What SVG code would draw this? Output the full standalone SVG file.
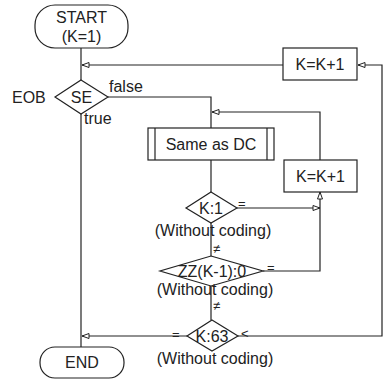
<svg xmlns="http://www.w3.org/2000/svg" width="383" height="380" viewBox="0 0 383 380">
<style>
.s{fill:#fff;stroke:#222;stroke-width:1.2}
.c{fill:none;stroke:#222;stroke-width:1.2}
text{font-family:"Liberation Sans",Arial,sans-serif;font-size:16px;fill:#222}
.m{text-anchor:middle}
.l{font-size:13px}
</style>
<defs>
<marker id="a" markerWidth="9" markerHeight="7" refX="8" refY="3.5" orient="auto" markerUnits="userSpaceOnUse">
<polygon points="1,1 8,3.5 1,6" fill="#fff" stroke="#222" stroke-width="1"/>
</marker>
</defs>
<g id="connectors">
<path class="c" d="M81,48 V80"/>
<path class="c" d="M283,65 H82" marker-end="url(#a)"/>
<path class="c" d="M81,114 V347"/>
<path class="c" d="M108,97 H211 V128"/>
<path class="c" d="M211,160 V192"/>
<path class="c" d="M237,208 H320" marker-end="url(#a)"/>
<path class="c" d="M211,222 V256"/>
<path class="c" d="M263,271 H320 V192" marker-end="url(#a)"/>
<path class="c" d="M320,160 V112 H212" marker-end="url(#a)"/>
<path class="c" d="M211,286 V320"/>
<path class="c" d="M187,336 H82" marker-end="url(#a)"/>
<path class="c" d="M238,336 H382 V65 H358" marker-end="url(#a)"/>
<text x="109" y="92">false</text>
<text x="84" y="124">true</text>
<text class="l" x="238" y="208">=</text>
<text class="l" x="213" y="253">≠</text>
<text class="l" x="267" y="272">=</text>
<text class="l" x="213" y="310">≠</text>
<text class="l" x="172" y="339">=</text>
<text class="l" x="241" y="338">&lt;</text>
</g>
<g id="start">
<rect class="s" x="35" y="5" width="93" height="43" rx="20"/>
<text class="m" x="81.5" y="23">START</text>
<text class="m" x="81.5" y="42">(K=1)</text>
</g>
<g id="se">
<polygon class="s" points="81,80 108,97 81,114 55,97"/>
<text class="m" x="81.5" y="103">SE</text>
<text x="12" y="103">EOB</text>
</g>
<g id="inc1">
<rect class="s" x="283" y="48" width="74" height="32"/>
<text class="m" x="320" y="70">K=K+1</text>
</g>
<g id="sameasdc">
<rect class="s" x="148" y="128" width="126" height="32"/>
<line class="c" x1="155" y1="128" x2="155" y2="160"/>
<line class="c" x1="267" y1="128" x2="267" y2="160"/>
<text class="m" x="211" y="150">Same as DC</text>
</g>
<g id="inc2">
<rect class="s" x="284" y="160" width="73" height="32"/>
<text class="m" x="320.5" y="182">K=K+1</text>
</g>
<g id="k1">
<polygon class="s" points="211,192 237,208 211,223 186,208"/>
<text class="m" x="211" y="214">K:1</text>
<text class="m" x="213" y="236">(Without coding)</text>
</g>
<g id="zz">
<polygon class="s" points="211,256 263,271 211,286 160,271"/>
<text class="m" x="212" y="277">ZZ(K-1):0</text>
<text class="m" x="215" y="295">(Without coding)</text>
</g>
<g id="k63">
<polygon class="s" points="212,320 238,336 212,351 187,336"/>
<text class="m" x="212" y="342">K:63</text>
<text class="m" x="215" y="364">(Without coding)</text>
</g>
<g id="end">
<rect class="s" x="40" y="347" width="84" height="31" rx="15"/>
<text class="m" x="82" y="368">END</text>
</g>
</svg>
